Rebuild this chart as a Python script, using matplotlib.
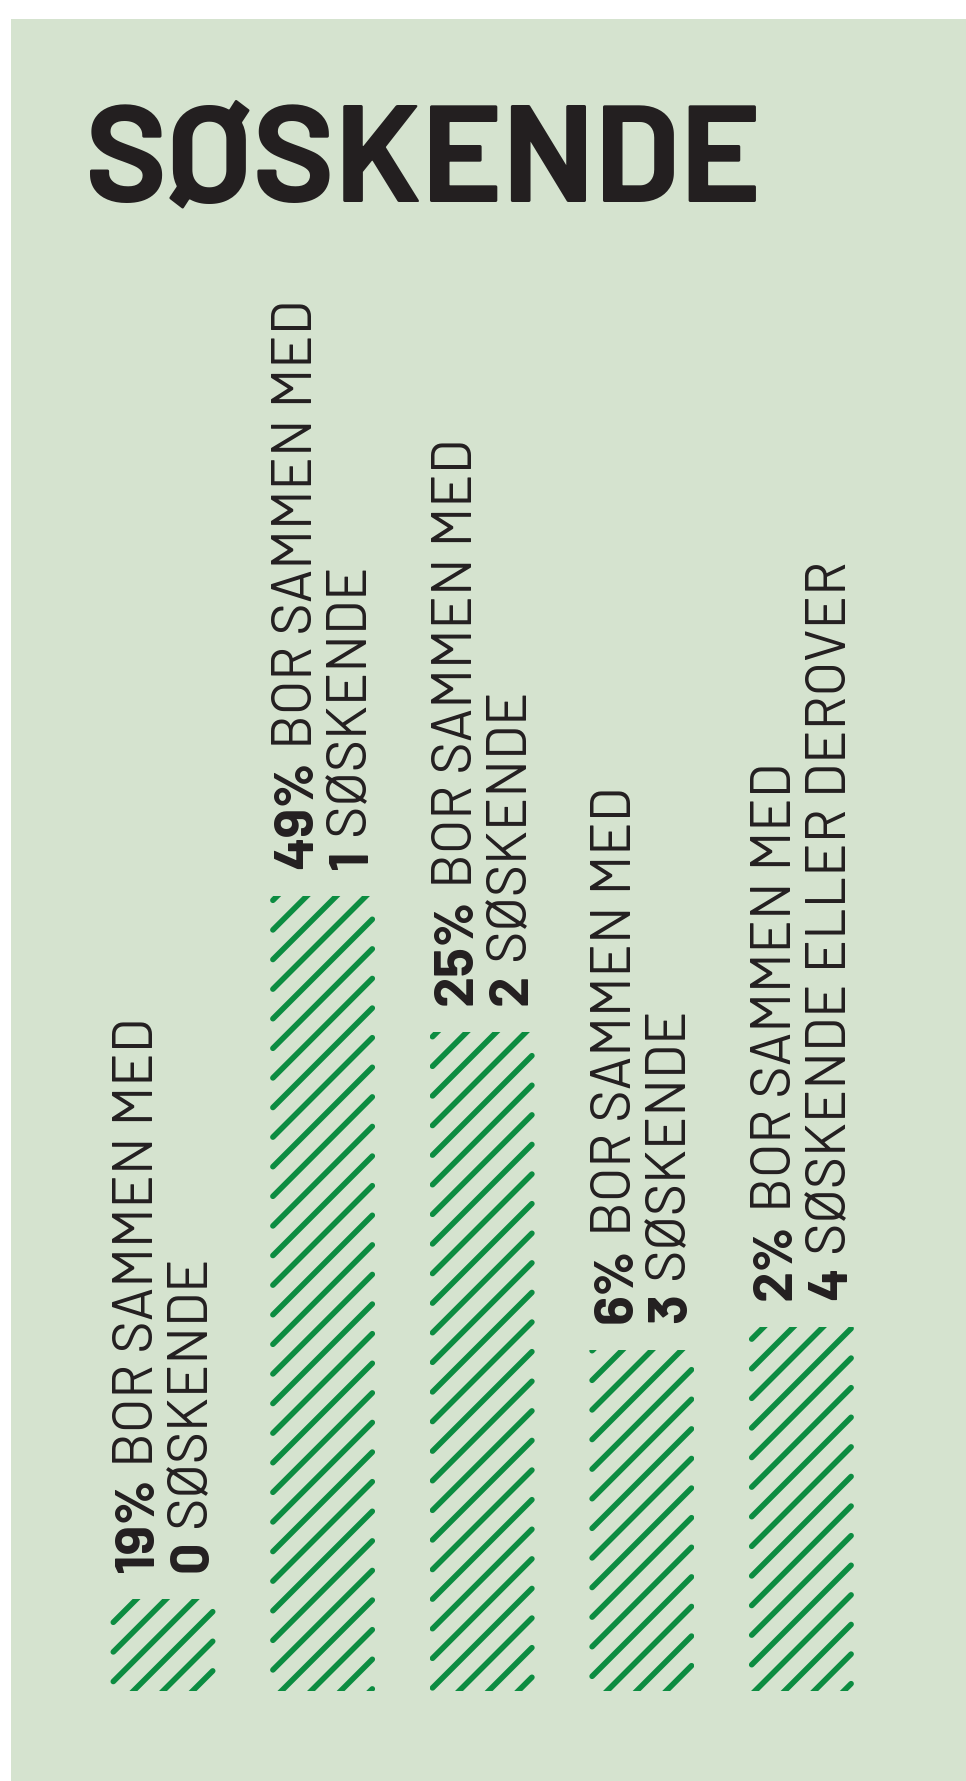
import numpy as np
import matplotlib
matplotlib.use("Agg")
import matplotlib.pyplot as plt
from matplotlib.patches import Rectangle
from matplotlib.collections import LineCollection
from matplotlib.transforms import IdentityTransform

# ---- data ----
title = "SØSKENDE"
categories = ["0", "1", "2", "3", "4"]
percent_labels = ["19%", "49%", "25%", "6%", "2%"]
line1_rest = [" BOR SAMMEN MED"] * 5
line2_rest = [" SØSKENDE", " SØSKENDE", " SØSKENDE", " SØSKENDE", " SØSKENDE ELLER DEROVER"]
bar_heights = [9.2, 79.9, 66.2, 34.3, 36.6]   # drawn bar heights (relative units)

# ---- style ----
W, H, DPI = 966, 1781, 178
BG = "#d5e3cf"
GREEN = "#0c8c41"
INK = "#231f20"
FAM = ["Barlow", "Roboto", "DejaVu Sans"]
PX = 72.0 / DPI          # points per pixel
LABEL_SIZE = 22.4
TITLE_SIZE = 56
HATCH_STEP = 29.6        # vertical distance between hatch lines, pixels
HATCH_PHASE = 18.8
HATCH_LW = 5.6           # pixels

fig = plt.figure(figsize=(W / DPI, H / DPI), dpi=DPI, facecolor="white")
fig.add_artist(Rectangle((11 / W, 0), 1 - 11 / W, 1 - 19 / H, transform=fig.transFigure,
                         facecolor=BG, edgecolor="none", zorder=-10))

fig.text(85 / W, 1 - 201 / H, title, family=FAM, fontweight="bold", fontsize=TITLE_SIZE,
         color=INK, ha="left", va="baseline")

ax = fig.add_axes([83.2 / W, 90 / H, 798 / W, 995 / H])
ax.set_xlim(-0.5, 4.5)
ax.set_ylim(0, 100)
ax.axis("off")
ax.patch.set_alpha(0)

BW = 0.658
xs = list(range(len(categories)))
bars = ax.bar(xs, bar_heights, width=BW, facecolor="none", edgecolor="none", linewidth=0)

# diagonal hatch texture: round ends at the bar sides, flat cut at top and bottom
r = HATCH_LW / 2
for bar in bars:
    bb = bar.get_window_extent()
    xa, xb = bb.x0 + r, bb.x1 - r
    kmin = int(np.floor((bb.x0 + H - HATCH_PHASE - bb.y1) / HATCH_STEP)) - 1
    kmax = int(np.ceil((bb.x1 + H - HATCH_PHASE - bb.y0) / HATCH_STEP)) + 1
    segs = []
    for k in range(kmin, kmax + 1):
        c = H - HATCH_PHASE - k * HATCH_STEP
        segs.append([(xa, xa + c), (xb, xb + c)])
    lc = LineCollection(segs, colors=GREEN, linewidths=HATCH_LW * PX, capstyle="round",
                        transform=IdentityTransform())
    ax.add_collection(lc, autolim=False)
    lc.set_clip_path(bar)

for i, x in enumerate(xs):
    xr = x + BW / 2
    h = bar_heights[i]
    for dx, bold_s, rest in [(-63, percent_labels[i], line1_rest[i]), (-8, categories[i], line2_rest[i])]:
        b = ax.annotate(bold_s, xy=(xr, h), xytext=(dx * PX, 27 * PX), textcoords="offset points",
                        rotation=90, rotation_mode="anchor", ha="left", va="baseline",
                        fontsize=LABEL_SIZE, fontweight="bold", family=FAM, color=INK)
        ax.annotate(rest, xy=(0.5, 1.0), xycoords=b, xytext=(0, 0), textcoords="offset points",
                    rotation=90, rotation_mode="anchor", ha="left", va="center",
                    fontsize=LABEL_SIZE, fontweight="normal", family=FAM, color=INK)

fig.savefig("out.png", dpi=DPI, facecolor="white")
